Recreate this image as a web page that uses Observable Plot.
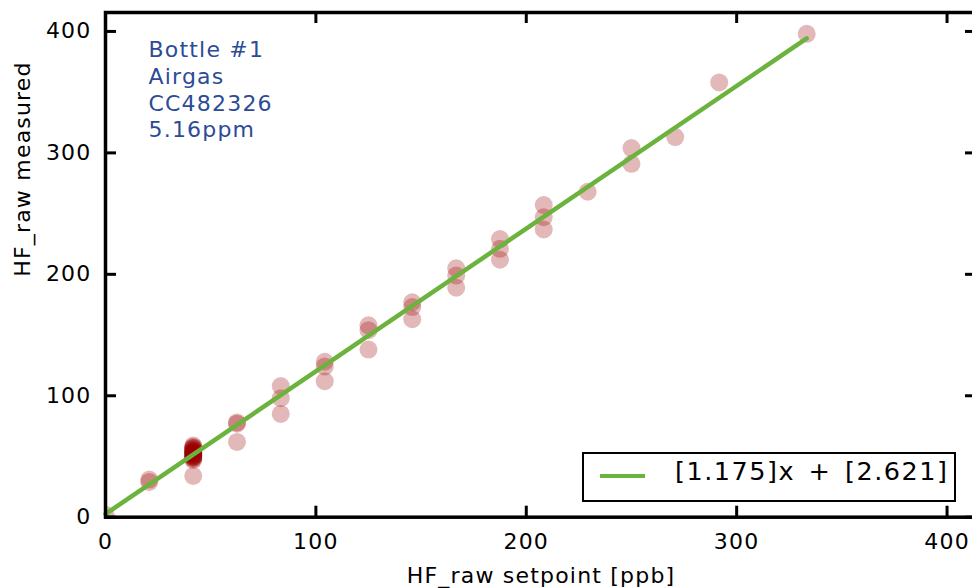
<!DOCTYPE html>
<html>
<head>
<meta charset="utf-8">
<script src="https://cdn.jsdelivr.net/npm/d3@7"></script>
<script src="https://cdn.jsdelivr.net/npm/@observablehq/plot@0.6"></script>
<style>
html, body { margin: 0; padding: 0; background: #fff; overflow: hidden; }
#wrap { position: relative; width: 972px; height: 588px; overflow: hidden; }
#wrap svg { max-width: none !important; width: 980px !important; height: 588px !important; display: block; }
#legend { position: absolute; left: 582px; top: 452px; width: 370px; height: 46px;
  border: 2px solid #000; background: #fff; font-family: "DejaVu Sans"; }
#legend .swatch { position: absolute; left: 16px; top: 20px; width: 45px; height: 4px; background: #6cb33e; }
#legend .lab { position: absolute; left: 91px; top: 4.5px; font-size: 25.5px; line-height: 1; letter-spacing: 1.5px; word-spacing: 4px; color: #000; white-space: nowrap; }
</style>
</head>
<body>
<div id="wrap"></div>
<script>
// Data
const setpoint = [
  0,
  20.8, 20.8,
  41.7, 41.7, 41.7, 41.7, 41.7, 41.7, 41.7, 41.7, 41.7, 41.7, 41.7, 41.7, 41.7, 41.7, 41.7, 41.7, 41.7, 41.7, 41.7, 41.7, 41.7, 41.7,
  62.5, 62.5, 62.5,
  83.3, 83.3, 83.3,
  104.2, 104.2, 104.2,
  125, 125, 125,
  145.8, 145.8, 145.8,
  166.7, 166.7, 166.7,
  187.5, 187.5, 187.5,
  208.3, 208.3, 208.3,
  229.2,
  250, 250,
  270.8,
  291.7,
  333.3
];
const measured = [
  2,
  29, 31,
  34, 47, 48, 49, 50, 51, 52, 53, 54, 55, 56, 57, 58, 59, 49, 51, 53, 55, 57, 50, 52, 54,
  62, 77, 78,
  85, 98, 108,
  112, 124, 128,
  138, 154, 158,
  163, 173, 177,
  189, 199, 205,
  212, 221, 229,
  237, 247, 257,
  268,
  291, 304,
  313,
  358,
  398
];
const fitSlope = 1.175;
const fitIntercept = 2.621;
const fitRange = [0, 333.3];
const xTicks = [0, 100, 200, 300, 400];
const yTicks = [0, 100, 200, 300, 400];
const annotation = ["Bottle #1", "Airgas", "CC482326", "5.16ppm"];
const xLabel = "HF_raw setpoint [ppb]";
const yLabel = "HF_raw measured";
const legendLabel = "[1.175]x + [2.621]";

const points = setpoint.map((x, i) => ({x, y: measured[i]}));
const fit = fitRange.map(x => ({x, y: fitSlope * x + fitIntercept}));

const W = 980, H = 588;
const mL = 105, mR = 4, mT = 12, mB = 71.3;
const innerW = W - mL - mR, innerH = H - mT - mB;

const chart = Plot.plot({
  width: W,
  height: H,
  marginLeft: mL,
  marginRight: mR,
  marginTop: mT,
  marginBottom: mB,
  style: {fontFamily: "DejaVu Sans", fontSize: "22px", letterSpacing: "1.2px", background: "#fff", color: "#000", maxWidth: "none"},
  x: {domain: [0, 414], axis: null},
  y: {domain: [0, 415.6], axis: null},
  marks: [
    Plot.dot(points, {x: "x", y: "y", r: 9, fill: "#990000", fillOpacity: 0.28, stroke: null, clip: true}),
    Plot.line(fit, {x: "x", y: "y", stroke: "#6cb33e", strokeWidth: 4.5}),
    Plot.frame({stroke: "#000", strokeWidth: 3.5}),
    Plot.tickX(xTicks, {x: d => d, stroke: "#000", strokeWidth: 3, insetTop: innerH - 11}),
    Plot.tickX(xTicks, {x: d => d, stroke: "#000", strokeWidth: 3, insetBottom: innerH - 11}),
    Plot.tickY(yTicks, {y: d => d, stroke: "#000", strokeWidth: 3, insetRight: innerW - 11}),
    Plot.tickY(yTicks, {y: d => d, stroke: "#000", strokeWidth: 3, insetLeft: innerW - 11}),
    Plot.axisX({ticks: xTicks, tickSize: 0, tickPadding: 16, label: null, fontSize: 22}),
    Plot.axisY({ticks: yTicks, tickSize: 0, tickPadding: 14, label: null, fontSize: 22}),
    Plot.text([annotation.join("\n")], {frameAnchor: "top-left", dx: 43, dy: 26, textAnchor: "start",
      fill: "#2c4b96", fontSize: 22, lineHeight: 1.21}),
    Plot.text([xLabel], {frameAnchor: "bottom", dy: 58.8, lineAnchor: "middle", fontSize: 22}),
    Plot.text([yLabel], {frameAnchor: "left", dx: -82.7, dy: 12, rotate: -90, lineAnchor: "middle",
      fontSize: 22, ariaLabel: "ylabel"})
  ]
});
d3.select(chart).selectAll('g[aria-label="ylabel"] text').style("letter-spacing", "0px");
const wrap = document.getElementById("wrap");
wrap.appendChild(chart);
const legend = document.createElement("div");
legend.id = "legend";
legend.innerHTML = '<div class="swatch"></div><div class="lab"></div>';
legend.querySelector(".lab").textContent = legendLabel;
wrap.appendChild(legend);
</script>
</body>
</html>
